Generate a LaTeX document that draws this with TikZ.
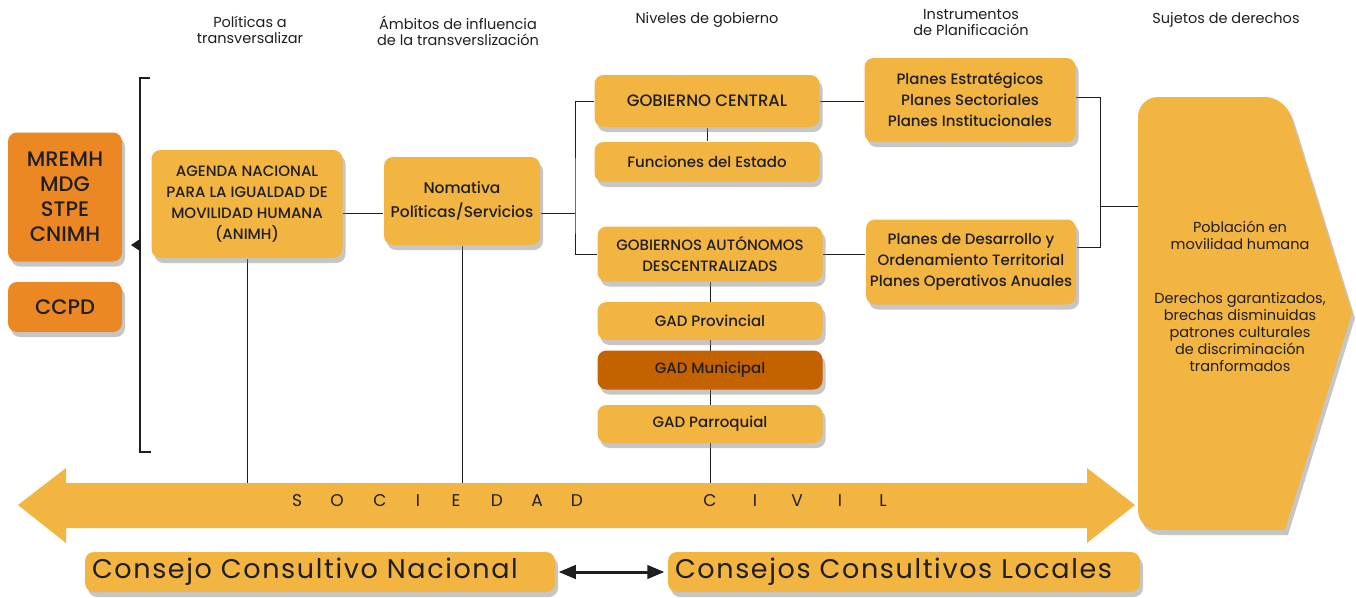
\documentclass[tikz,border=0pt]{standalone}
\usepackage{fontspec}
\setmainfont{Poppins}
\newfontfamily\boxfont{Poppins Medium}
\usetikzlibrary{arrows,positioning,shadows,backgrounds}
\definecolor{boxfill}{RGB}{243,181,66}
\definecolor{darkfill}{RGB}{236,136,36}
\definecolor{munfill}{RGB}{196,98,0}
\definecolor{inkc}{RGB}{30,30,30}

\begin{document}
\begin{tikzpicture}[x=1pt,y=-1pt,line width=1.8pt,
  box/.style={rectangle,rounded corners=9pt,fill=boxfill,align=center,inner sep=0pt,
    font=\boxfont\fontsize{15}{21}\selectfont,text=inkc,
    drop shadow={opacity=0.45,shadow xshift=3pt,shadow yshift=-5pt}},
  darkbox/.style={box,fill=darkfill,font=\boxfont\fontsize{21}{25}\selectfont},
  head/.style={align=center,font=\fontsize{14.5}{16}\selectfont,text=inkc},
  wide/.style={box,minimum height=40pt,inner xsep=7pt,align=left,
    font=\fontsize{27}{28}\selectfont\addfontfeature{LetterSpace=6}}]

  \useasboundingbox (0,0) rectangle (1356,597);

  % headers
  \node[head] (h1) at (250,30) {Políticas a\\transversalizar};
  \node[head] (h2) at (458,31) {Ámbitos de influencia\\de la transverslización};
  \node[head] (h3) at (707,20) {Niveles de gobierno};
  \node[head] (h4) at (971,23) {Instrumentos\\de Planificación};
  \node[head] (h5) at (1226,20) {Sujetos de derechos};

  % left column
  \node[darkbox,minimum width=114pt,minimum height=129pt] (mremh) at (65,197) {MREMH\\MDG\\STPE\\CNIMH};
  \node[darkbox,minimum width=114pt,minimum height=50pt] (ccpd) at (65,307) {CCPD};

  \node[box,minimum width=191pt,minimum height=108pt] (animh) at (247,204)
    {AGENDA NACIONAL\\PARA LA IGUALDAD DE\\MOVILIDAD HUMANA\\(ANIMH)};
  \node[box,minimum width=156pt,minimum height=88pt,font=\boxfont\fontsize{15.5}{24}\selectfont] (norma) at (462,201)
    {Nomativa\\Políticas/Servicios};

  % niveles de gobierno
  \node[box,minimum width=225pt,minimum height=52pt,font=\boxfont\fontsize{16.5}{21}\selectfont] (gobcen) at (707,101) {GOBIERNO CENTRAL};
  \node[box,minimum width=225pt,minimum height=40pt] (funest) at (707,162) {Funciones del Estado};
  \node[box,minimum width=225pt,minimum height=55pt] (gad) at (710,254) {GOBIERNOS AUTÓNOMOS\\DESCENTRALIZADS};
  \node[box,minimum width=225pt,minimum height=38pt] (gadprov) at (710,321) {GAD Provincial};
  \node[box,minimum width=225pt,minimum height=39pt,fill=munfill] (gadmun) at (710,370) {GAD Municipal};
  \node[box,minimum width=225pt,minimum height=38pt] (gadparr) at (710,424) {GAD Parroquial};

  % instrumentos
  \node[box,minimum width=211pt,minimum height=84pt] (plest) at (970,100)
    {Planes Estratégicos\\Planes Sectoriales\\Planes Institucionales};
  \node[box,minimum width=210pt,minimum height=85pt] (pldes) at (971,262)
    {Planes de Desarrollo y\\Ordenamiento Territorial\\Planes Operativos Anuales};

  % sujetos de derechos
  \fill[boxfill,rounded corners=20pt,drop shadow={opacity=0.45,shadow xshift=3pt,shadow yshift=-5pt}]
    (1138,313) -- (1138,97) -- (1285,97) [sharp corners] -- (1352,313) -- (1285,530) [rounded corners=20pt] -- (1138,530) -- cycle;
  \node[align=center,font=\fontsize{14.5}{17}\selectfont,text=inkc] (suj) at (1240,296)
    {Población en\\movilidad humana\\[37pt]Derechos garantizados,\\brechas disminuidas\\patrones culturales\\de discriminación\\tranformados};
  \coordinate (sujin) at (1138,206);

  % sociedad civil
  \fill[boxfill] (18,505) -- (66,468) -- (66,483) -- (1087,483) -- (1087,468) -- (1135,505)
    -- (1087,543) -- (1087,528) -- (66,528) -- (66,543) -- cycle;
  \coordinate (soctop) at (0,483);
  \foreach \x/\l in {297/S,337/O,380/C,418/I,456/E,497/D,537/A,577/D,710/C,755/I,797/V,840/I,883/L}
    \node[font=\fontsize{17}{17}\selectfont,text=inkc] (s\x) at (\x,501) {\l};

  % consejos
  \node[wide,text width=456pt] (ccn) at (320,572) {Consejo Consultivo Nacional};
  \node[wide,text width=458pt] (ccl) at (904,572) {Consejos Consultivos Locales};
  \draw[<->,>=triangle 45,line width=3pt,inkc,shorten <=3pt,shorten >=3pt] (ccn.east) -- (ccl.west);

  % connectors
  \begin{scope}[on background layer]
    \coordinate (hub) at (575,213);
    \coordinate (rhub) at (1100,206);
    \draw[inkc] (animh.east |- hub) -- (norma.west |- hub);
    \draw[inkc] (norma.east |- hub) -- (hub);
    \draw[inkc] (gobcen.west) -| (hub) |- (gad.west);
    \draw[inkc] (gobcen.east) -- (plest.west |- gobcen.east);
    \draw[inkc] (gad.east) -- (pldes.west |- gad.east);
    \draw[inkc] ([yshift=3pt]plest.east) -| (rhub) |- ([yshift=15pt]pldes.east);
    \draw[inkc] (rhub) -- (sujin);
    \draw[inkc] (gobcen.south) -- (funest.north);
    \draw[inkc] (gad.south) -- (gad.south |- soctop);
    \draw[inkc] (animh.south) -- (animh.south |- soctop);
    \draw[inkc] (norma.south) -- (norma.south |- soctop);
  \end{scope}

  % bracket
  \coordinate (bt) at (140,78);
  \coordinate (bb) at (140,452);
  \draw[inkc] ([xshift=10pt]bt) -- (bt) -- (bb) -- ([xshift=11pt]bb);
  \fill[inkc] (140,239) -- (131,245) -- (140,251) -- cycle;
\end{tikzpicture}
\end{document}
